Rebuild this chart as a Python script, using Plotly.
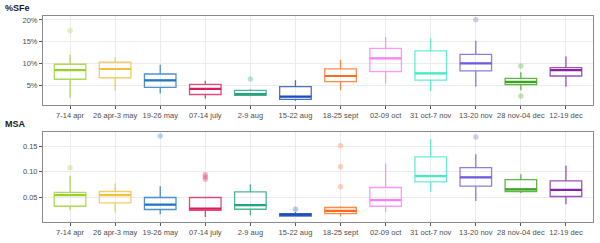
import plotly.graph_objects as go
from plotly.subplots import make_subplots

categories = ["7-14 apr", "26 apr-3 may", "19-26 may", "07-14 july", "2-9 aug", "15-22 aug",
              "18-25 sept", "02-09 oct", "31 oct-7 nov", "13-20 nov", "28 nov-04 dec", "12-19 dec"]

colors = ["#9BCF2E", "#F3C03E", "#2277BF", "#D91E5B", "#22A47C", "#1A4DB8",
          "#FF6A1E", "#FF7DF2", "#3FEBC4", "#6F5BDC", "#38A31C", "#8524A8"]

# %SFe panel (percent)
sfe_low = [2.1, 3.75, 3.15, 2.0, 2.5, 1.45, 3.9, 5.45, 3.7, 4.7, 3.9, 4.7]
sfe_q1 = [6.4, 6.75, 4.55, 2.9, 2.7, 1.8, 5.85, 8.15, 6.2, 8.3, 5.2, 7.15]
sfe_med = [8.5, 8.75, 6.15, 4.2, 3.0, 2.4, 7.15, 11.2, 7.75, 10.05, 5.8, 8.5]
sfe_q3 = [9.84, 10.3, 7.6, 5.23, 3.85, 4.7, 8.8, 13.5, 12.9, 12.1, 6.6, 9.05]
sfe_high = [12.0, 11.45, 9.7, 6.06, 4.1, 6.2, 10.8, 16.05, 15.8, 15.2, 8.0, 11.6]
sfe_out_x = ["7-14 apr", "2-9 aug", "13-20 nov", "28 nov-04 dec", "28 nov-04 dec"]
sfe_out_y = [17.5, 6.45, 20.05, 9.45, 2.55]

# MSA panel
msa_low = [0.0252, 0.0207, 0.0174, 0.012, 0.0154, 0.0125, 0.0135, 0.0219, 0.061, 0.0434, 0.059, 0.037]
msa_q1 = [0.033, 0.0395, 0.0266, 0.025, 0.0271, 0.014, 0.0187, 0.033, 0.0805, 0.072, 0.0617, 0.052]
msa_med = [0.0545, 0.0545, 0.0363, 0.0285, 0.035, 0.0168, 0.0238, 0.0447, 0.0916, 0.089, 0.066, 0.0648]
msa_q3 = [0.0598, 0.0617, 0.05, 0.05, 0.061, 0.0187, 0.0305, 0.0695, 0.129, 0.108, 0.085, 0.0824]
msa_high = [0.0922, 0.0773, 0.072, 0.05, 0.076, 0.022, 0.033, 0.1164, 0.164, 0.134, 0.0955, 0.1117]
msa_out_x = ["7-14 apr", "19-26 may", "07-14 july", "07-14 july", "07-14 july", "15-22 aug",
             "18-25 sept", "18-25 sept", "18-25 sept", "13-20 nov"]
msa_out_y = [0.108, 0.170, 0.095, 0.090, 0.0857, 0.0271, 0.151, 0.110, 0.0707, 0.168]

sfe_ticks = [5, 10, 15, 20]
msa_ticks = [0.05, 0.10, 0.15]


def rgba(hexc, a):
    h = hexc.lstrip("#")
    return "rgba(%d,%d,%d,%.2f)" % (int(h[0:2], 16), int(h[2:4], 16), int(h[4:6], 16), a)


fig = make_subplots(rows=2, cols=1, vertical_spacing=0.13)

panels = [
    (1, sfe_low, sfe_q1, sfe_med, sfe_q3, sfe_high, sfe_out_x, sfe_out_y),
    (2, msa_low, msa_q1, msa_med, msa_q3, msa_high, msa_out_x, msa_out_y),
]
for row, lo, q1, md, q3, hi, ox, oy in panels:
    for i, cat in enumerate(categories):
        c = colors[i]
        fig.add_trace(go.Box(x=[cat], q1=[q1[i]], median=[md[i]], q3=[q3[i]],
                             lowerfence=[lo[i]], upperfence=[hi[i]],
                             boxpoints=False, width=0.7, whiskerwidth=0,
                             line=dict(color=rgba(c, 0.8), width=1.3),
                             fillcolor="rgba(255,255,255,0)", showlegend=False,
                             hoverinfo="skip"), row=row, col=1)
        # emphasised median line
        fig.add_trace(go.Box(x=[cat], q1=[md[i]], median=[md[i]], q3=[md[i]],
                             lowerfence=[md[i]], upperfence=[md[i]],
                             boxpoints=False, width=0.7, whiskerwidth=0,
                             line=dict(color=c, width=2.2),
                             fillcolor="rgba(255,255,255,0)", showlegend=False,
                             hoverinfo="skip"), row=row, col=1)
    ocols = [rgba(colors[categories.index(x)], 0.3) for x in ox]
    fig.add_trace(go.Scatter(x=ox, y=oy, mode="markers",
                             marker=dict(color=ocols, size=5.5),
                             showlegend=False, hoverinfo="skip"), row=row, col=1)

axis_common = dict(showline=True, mirror=True, linecolor="#8A8A8A", linewidth=1,
                   gridcolor="#EBEBEB", gridwidth=1, zeroline=False, automargin=False,
                   ticks="outside", ticklen=3, tickcolor="#555555",
                   tickfont=dict(family="Liberation Sans, Arial", size=7.5, color="#4D4D4D"))

fig.update_xaxes(**axis_common, categoryorder="array", categoryarray=categories,
                 range=[-0.6, 11.6], tickangle=0)
fig.update_yaxes(**axis_common)
fig.update_yaxes(row=1, col=1, range=[0.5, 20.9], tickvals=sfe_ticks,
                 ticktext=[f"{t}%" for t in sfe_ticks])
fig.update_yaxes(row=2, col=1, range=[0.0023, 0.178], tickvals=msa_ticks,
                 ticktext=[f"{t:.2f}" for t in msa_ticks])

fig.update_layout(
    width=600, height=243,
    margin=dict(l=43, r=7, t=16, b=21, autoexpand=False),
    plot_bgcolor="white", paper_bgcolor="white",
    boxmode="overlay",
    hovermode=False,
    yaxis=dict(domain=[0.568, 1.0]),
    yaxis2=dict(domain=[0.0, 0.438]),
    annotations=[
        dict(text="<b>%SFe</b>", xref="paper", yref="paper", x=-0.072, y=1.039,
             xanchor="left", yanchor="middle", showarrow=False,
             font=dict(family="Liberation Sans, Arial", size=9, color="#1A1A1A")),
        dict(text="<b>MSA</b>", xref="paper", yref="paper", x=-0.072, y=0.476,
             xanchor="left", yanchor="middle", showarrow=False,
             font=dict(family="Liberation Sans, Arial", size=9, color="#1A1A1A")),
    ],
)

fig.write_html("out.html", config={"displayModeBar": False, "staticPlot": True},
               post_script="document.body.style.margin='0px';document.body.style.overflow='hidden';")
